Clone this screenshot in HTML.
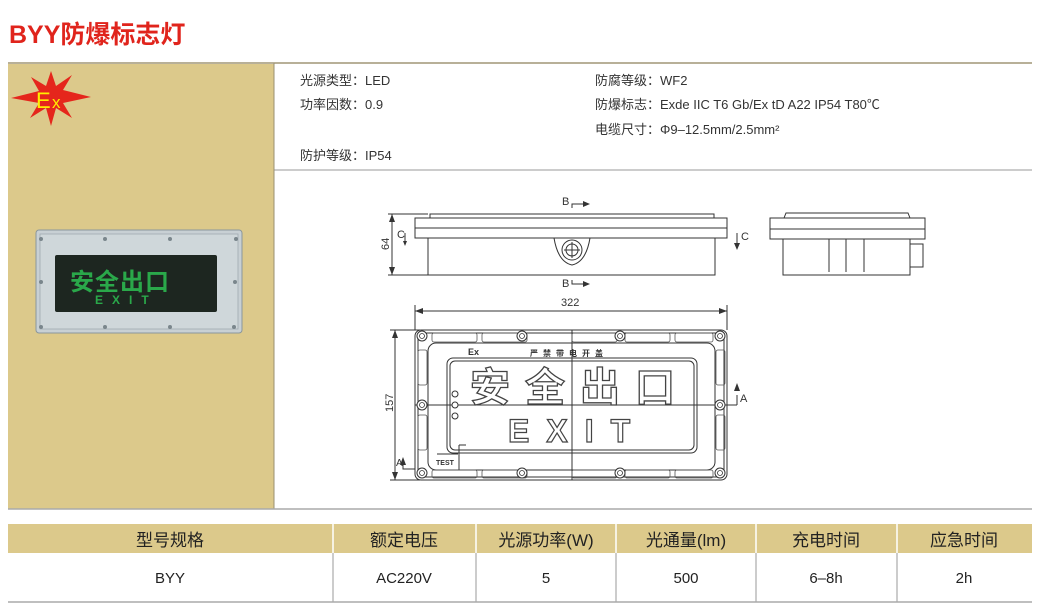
<!DOCTYPE html>
<html><head><meta charset="utf-8"><style>
html,body{margin:0;padding:0;background:#fff;}
body{width:1040px;height:613px;position:relative;overflow:hidden;font-family:"Liberation Sans","Noto Sans CJK SC",sans-serif;}
svg{position:absolute;left:0;top:0;}
</style></head><body>
<svg width="1040" height="613" viewBox="0 0 1040 613" xmlns="http://www.w3.org/2000/svg" font-family="'Liberation Sans','Noto Sans CJK SC',sans-serif">
<!-- title -->
<text x="9" y="43" font-size="25" font-weight="bold" fill="#e0241c">BYY防爆标志灯</text>
<!-- top frame -->
<rect x="8" y="63" width="266" height="446" fill="#dcc98b"/>
<line x1="8" y1="63" x2="1032" y2="63" stroke="#b8b098" stroke-width="2"/>
<line x1="274" y1="170" x2="1032" y2="170" stroke="#bbb" stroke-width="1.5"/>
<line x1="274" y1="63" x2="274" y2="509" stroke="#9a9070" stroke-width="1"/>
<line x1="8" y1="509" x2="1032" y2="509" stroke="#aaa" stroke-width="1.5"/>
<!-- Ex star -->
<polygon fill="#e5261c" points="51,71 56,86 72,75 63,90 91,97 63,103 72,118 56,108 51,126 46,108 30,118 39,103 11,98 39,91 31,77 46,86"/>
<text x="36" y="108" font-size="22" fill="#ffee00">E</text><text x="52" y="108" font-size="17" fill="#ffee00">x</text>
<!-- photo -->
<rect x="36" y="230" width="206" height="103" rx="3" fill="#c8d0d4" stroke="#8a969c"/>
<rect x="40" y="234" width="198" height="95" fill="#cfd7da" stroke="#a0aab0" stroke-width="0.8"/>
<rect x="55" y="255" width="162" height="57" rx="2" fill="#1d2620"/>
<text x="70" y="290" font-size="24" font-weight="bold" fill="#2aa84a" letter-spacing="1">安全出口</text>
<text x="95" y="304" font-size="12" font-weight="bold" fill="#2aa84a" letter-spacing="9">EXIT</text>
<g fill="#7a868c"><circle cx="41" cy="239" r="2"/><circle cx="105" cy="239" r="2"/><circle cx="170" cy="239" r="2"/><circle cx="236" cy="239" r="2"/><circle cx="41" cy="327" r="2"/><circle cx="105" cy="327" r="2"/><circle cx="170" cy="327" r="2"/><circle cx="234" cy="327" r="2"/><circle cx="41" cy="282" r="2"/><circle cx="235" cy="282" r="2"/></g>
<!-- specs -->
<g font-size="13" fill="#333">
<text x="300" y="85">光源类型：LED</text>
<text x="300" y="109">功率因数：0.9</text>
<text x="300" y="160">防护等级：IP54</text>
<text x="595" y="85">防腐等级：WF2</text>
<text x="595" y="109">防爆标志：Exde IIC T6 Gb/Ex tD A22 IP54 T80℃</text>
<text x="595" y="134">电缆尺寸：Φ9–12.5mm/2.5mm²</text>
</g>
<!-- side view -->
<g fill="none" stroke="#333" stroke-width="1">
<path d="M430,218 L430,214 L714,214 L714,218"/>
<rect x="415" y="218" width="312" height="10"/>
<rect x="415" y="228" width="312" height="10"/>
<path d="M428,238 L428,275 L715,275 L715,238"/>
<path d="M554,238 Q558,262 572,265 Q586,262 590,238"/>
<circle cx="572" cy="250" r="10"/><circle cx="572" cy="250" r="6"/>
<line x1="564" y1="250" x2="580" y2="250"/><line x1="572" y1="242" x2="572" y2="258"/>
<line x1="392" y1="214" x2="392" y2="275"/>
<line x1="388" y1="214" x2="428" y2="214"/><line x1="388" y1="275" x2="428" y2="275"/>
<polyline points="572,208 572,204 585,204"/><polyline points="572,280 572,284 585,284"/>
<polyline points="405,233 405,243"/><polyline points="737,233 737,246"/>
</g>
<g fill="#333"><polygon points="392,214 389,222 395,222"/><polygon points="392,275 389,267 395,267"/>
<polygon points="590,204 583,201 583,207"/><polygon points="590,284 583,281 583,287"/>
<polygon points="405,246 403,241 407,241"/><polygon points="737,250 734,243 740,243"/></g>
<g font-size="11" fill="#333"><text x="562" y="205">B</text><text x="562" y="287">B</text><text x="397" y="238">C</text><text x="741" y="240">C</text>
<text x="389" y="250" transform="rotate(-90 389 250)" font-size="11">64</text></g>
<!-- right view -->
<g fill="none" stroke="#333" stroke-width="1">
<path d="M784,218 L786,213 L908,213 L910,218"/>
<rect x="770" y="218" width="155" height="11"/><rect x="770" y="229" width="155" height="10"/>
<path d="M783,239 L783,275 L910,275 L910,239"/>
<line x1="829" y1="239" x2="829" y2="272"/><line x1="846" y1="239" x2="846" y2="272"/><line x1="864" y1="239" x2="864" y2="272"/>
<path d="M910,244 L923,244 L923,267 L910,267"/>
</g>
<!-- front view -->
<g fill="none" stroke="#333" stroke-width="1">
<line x1="415" y1="311" x2="727" y2="311"/><line x1="415" y1="305" x2="415" y2="330"/><line x1="727" y1="305" x2="727" y2="330"/>
<line x1="395" y1="330" x2="395" y2="480"/><line x1="390" y1="330" x2="420" y2="330"/><line x1="390" y1="480" x2="420" y2="480"/>
<rect x="415" y="330" width="312" height="150" rx="6"/>
<rect x="418" y="333" width="306" height="144" rx="5"/>
<rect x="428" y="343" width="287" height="127" rx="8"/>
<rect x="447" y="358" width="250" height="95" rx="6"/>
<rect x="450" y="361" width="244" height="89" rx="5"/>
<line x1="572" y1="330" x2="572" y2="480"/>
<line x1="415" y1="405" x2="737" y2="405"/>
<polyline points="737,405 737,395"/>
<polyline points="403,462 403,469 415,469"/>
<line x1="459" y1="445" x2="466" y2="445"/><line x1="459" y1="445" x2="459" y2="470"/>
<line x1="437" y1="454" x2="458" y2="454"/>
</g>
<g fill="none" stroke="#555" stroke-width="0.8">
<rect x="432" y="333" width="45" height="9" rx="2"/><rect x="482" y="333" width="45" height="9" rx="2"/><rect x="572" y="333" width="45" height="9" rx="2"/><rect x="625" y="333" width="45" height="9" rx="2"/><rect x="675" y="333" width="38" height="9" rx="2"/>
<rect x="432" y="470" width="45" height="8" rx="2"/><rect x="482" y="470" width="45" height="8" rx="2"/><rect x="572" y="470" width="45" height="8" rx="2"/><rect x="625" y="470" width="45" height="8" rx="2"/><rect x="675" y="470" width="38" height="8" rx="2"/>
<rect x="418" y="350" width="9" height="35" rx="2"/><rect x="418" y="415" width="9" height="35" rx="2"/>
<rect x="716" y="350" width="9" height="35" rx="2"/><rect x="716" y="415" width="9" height="35" rx="2"/>
</g>
<g fill="#fff" stroke="#333" stroke-width="1">
<circle cx="422" cy="336" r="5"/><circle cx="522" cy="336" r="5"/><circle cx="620" cy="336" r="5"/><circle cx="720" cy="336" r="5"/>
<circle cx="422" cy="405" r="5"/><circle cx="720" cy="405" r="5"/>
<circle cx="422" cy="473" r="5"/><circle cx="522" cy="473" r="5"/><circle cx="620" cy="473" r="5"/><circle cx="720" cy="473" r="5"/>
<circle cx="455" cy="394" r="3"/><circle cx="455" cy="405" r="3"/><circle cx="455" cy="416" r="3"/>
</g>
<g fill="none" stroke="#333" stroke-width="0.8">
<circle cx="422" cy="336" r="2.5"/><circle cx="522" cy="336" r="2.5"/><circle cx="620" cy="336" r="2.5"/><circle cx="720" cy="336" r="2.5"/>
<circle cx="422" cy="405" r="2.5"/><circle cx="720" cy="405" r="2.5"/>
<circle cx="422" cy="473" r="2.5"/><circle cx="522" cy="473" r="2.5"/><circle cx="620" cy="473" r="2.5"/><circle cx="720" cy="473" r="2.5"/>
</g>
<g fill="#333"><polygon points="415,311 423,308 423,314"/><polygon points="727,311 719,308 719,314"/>
<polygon points="395,330 392,338 398,338"/><polygon points="395,480 392,472 398,472"/>
<polygon points="737,383 734,391 740,391"/><polygon points="403,457 400,465 406,465"/></g>
<g font-size="11" fill="#333"><text x="561" y="306">322</text><text x="740" y="402">A</text><text x="396" y="466" font-size="10">A</text>
<text x="393" y="412" transform="rotate(-90 393 412)">157</text>
<text x="468" y="355" font-size="9" font-weight="bold">Ex</text>
<text x="530" y="356" font-size="8" font-weight="bold" letter-spacing="5">严禁带电开盖</text>
<text x="436" y="465" font-size="7" font-weight="bold">TEST</text></g>
<text x="470" y="401" font-size="40" font-weight="bold" fill="#fff" stroke="#444" stroke-width="1.3" letter-spacing="15">安全出口</text>
<text x="508" y="442" font-size="32" font-weight="bold" fill="#fff" stroke="#444" stroke-width="1.2" letter-spacing="17">EXIT</text>
<!-- table -->
<rect x="8" y="524" width="1024" height="29" fill="#dcc98b"/>
<g stroke="#fff" stroke-width="1.5"><line x1="333" y1="524" x2="333" y2="553"/><line x1="476" y1="524" x2="476" y2="553"/><line x1="616" y1="524" x2="616" y2="553"/><line x1="756" y1="524" x2="756" y2="553"/><line x1="897" y1="524" x2="897" y2="553"/></g>
<g stroke="#999" stroke-width="1"><line x1="333" y1="553" x2="333" y2="602"/><line x1="476" y1="553" x2="476" y2="602"/><line x1="616" y1="553" x2="616" y2="602"/><line x1="756" y1="553" x2="756" y2="602"/><line x1="897" y1="553" x2="897" y2="602"/></g>
<line x1="8" y1="602" x2="1032" y2="602" stroke="#aaa" stroke-width="1.5"/>
<g font-size="17" fill="#222" text-anchor="middle">
<text x="170" y="546">型号规格</text><text x="404" y="546">额定电压</text><text x="546" y="546">光源功率(W)</text><text x="686" y="546">光通量(lm)</text><text x="826" y="546">充电时间</text><text x="964" y="546">应急时间</text>
</g>
<g font-size="15" fill="#222" text-anchor="middle">
<text x="170" y="583">BYY</text><text x="404" y="583">AC220V</text><text x="546" y="583">5</text><text x="686" y="583">500</text><text x="826" y="583">6–8h</text><text x="964" y="583">2h</text>
</g>
</svg>
</body></html>
